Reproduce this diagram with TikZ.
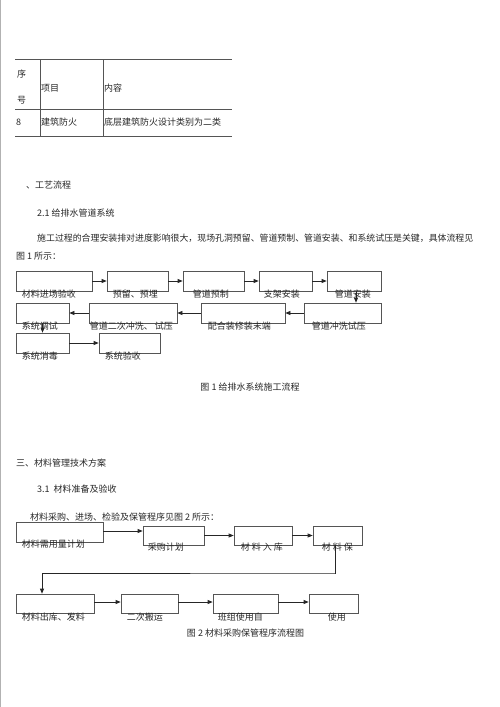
\documentclass[tikz,border=0pt]{standalone}
\usepackage{fontspec}
\newfontfamily\cjk{Noto Sans CJK SC}
\usetikzlibrary{arrows.meta}

\definecolor{InkGray}{HTML}{262626}
\definecolor{RuleGray}{HTML}{555555}

\tikzset{
  box/.style={draw=RuleGray, line width=0.7pt, inner sep=0pt},
  lbl/.style={font=\cjk\fontsize{9}{9}\selectfont, text=InkGray, inner sep=0pt, anchor=west},
  txt/.style={font=\cjk\fontsize{9}{9}\selectfont, text=InkGray, inner sep=0pt, anchor=west},
  arr/.style={draw=black!85, line width=0.7pt, -{Triangle[length=5pt,width=4pt]}},
}

\begin{document}
\begin{tikzpicture}[x=1pt,y=-1pt]
        \useasboundingbox (0,0) rectangle (500,707);
        \draw[black!30, line width=1pt] (0.5,0) -- (0.5,707);

        % table
        \draw[RuleGray, line width=0.8pt] (15,59) -- (232,59);
        \draw[RuleGray, line width=0.6pt] (15,109) -- (232,109);
        \draw[RuleGray, line width=0.6pt] (15,136) -- (232,136);
        \draw[RuleGray, line width=0.6pt] (40,59) -- (40,136);
        \draw[RuleGray, line width=0.6pt] (103,59) -- (103,136);
        \node[txt] (hxu) at (17,74) {序};
        \node[txt] (hhao) at (17,100) {号};
        \node[txt] (hitem) at (41,88) {项目};
        \node[txt] (hcont) at (104,88) {内容};
        \node[txt] (rnum) at (16,122) {8};
        \node[txt] (ritem) at (41,122) {建筑防火};
        \node[txt] (rcont) at (104,122) {底层建筑防火设计类别为二类};

        % text
        \node[txt] (sec2) at (26,185) {、工艺流程};
        \node[txt] (sub21) at (37,213) {2.1 给排水管道系统};
        \node[txt, font=\cjk\fontsize{8.9}{9}\selectfont] (par1) at (37,238) {施工过程的合理安装排对进度影响很大，现场孔洞预留、管道预制、管道安装、和系统试压是关键，具体流程见};
        \node[txt] (par1b) at (16,256) {图 1 所示：};

        % figure 1
        \node[box, minimum width=76pt, minimum height=20pt] (b1) at (54,281) {};
        \node[box, minimum width=61pt, minimum height=20pt] (b2) at (137.5,281) {};
        \node[box, minimum width=61pt, minimum height=20pt] (b3) at (213.5,281) {};
        \node[box, minimum width=53pt, minimum height=20pt] (b4) at (285.5,281) {};
        \node[box, minimum width=54pt, minimum height=20pt] (b5) at (354,281) {};
        \node[box, minimum width=53pt, minimum height=20pt] (c1) at (42.5,313) {};
        \node[box, minimum width=88pt, minimum height=20pt] (c2) at (133,313) {};
        \node[box, minimum width=84pt, minimum height=20pt] (c3) at (243,313) {};
        \node[box, minimum width=77pt, minimum height=20pt] (c4) at (342.5,313) {};
        \node[box, minimum width=53pt, minimum height=20pt] (d1) at (42.5,343) {};
        \node[box, minimum width=61pt, minimum height=20pt] (d2) at (129.5,343) {};

        \node[lbl] (b1t) at ([xshift=6pt,yshift=-3pt]b1.south west) {材料进场验收};
        \node[lbl] (b2t) at ([xshift=6pt,yshift=-3pt]b2.south west) {预留、预埋};
        \node[lbl] (b3t) at ([xshift=10pt,yshift=-3pt]b3.south west) {管道预制};
        \node[lbl] (b4t) at ([xshift=5pt,yshift=-3pt]b4.south west) {支架安装};
        \node[lbl] (b5t) at ([xshift=8pt,yshift=-3pt]b5.south west) {管道安装};
        \node[lbl] (c1t) at ([xshift=6pt,yshift=-3pt]c1.south west) {系统调试};
        \node[lbl] (c2t) at ([xshift=1pt,yshift=-3pt]c2.south west) {管道二次冲洗、 试压};
        \node[lbl] (c3t) at ([xshift=7pt,yshift=-3pt]c3.south west) {配合装修装末端};
        \node[lbl] (c4t) at ([xshift=8pt,yshift=-3pt]c4.south west) {管道冲洗试压};
        \node[lbl] (d1t) at ([xshift=6pt,yshift=-3pt]d1.south west) {系统消毒};
        \node[lbl] (d2t) at ([xshift=6pt,yshift=-3pt]d2.south west) {系统验收};

        \draw[arr] (b1.east) -- (b2.west);
        \draw[arr] (b2.east) -- (b3.west);
        \draw[arr] (b3.east) -- (b4.west);
        \draw[arr] (b4.east) -- (b5.west);
        \draw[arr] ([xshift=2pt]b5.south) -- ([xshift=2pt]b5.south |- c4.north);
        \draw[arr] (c4.west) -- (c3.east);
        \draw[arr] (c3.west) -- (c2.east);
        \draw[arr] (c2.west) -- (c1.east);
        \draw[arr] (c1.south) -- (d1.north);
        \draw[arr] (d1.east) -- (d2.west);

        \node[txt, anchor=center] (cap1) at (250,387) {图 1 给排水系统施工流程};

        % section 3
        \node[txt] (sec3) at (16,463) {三、材料管理技术方案};
        \node[txt] (sub31) at (37,489) {3.1 \ 材料准备及验收};
        \node[txt] (par3) at (30,517) {材料采购、进场、检验及保管程序见图 2 所示：};

        % figure 2
        \node[box, minimum width=87pt, minimum height=20pt] (m1) at (59.5,532) {};
        \node[box, minimum width=61pt, minimum height=19pt] (m2) at (173.5,535.5) {};
        \node[box, minimum width=58pt, minimum height=19pt] (m3) at (263,535.5) {};
        \node[box, minimum width=49pt, minimum height=19pt] (m4) at (337.5,535.5) {};
        \node[box, minimum width=78pt, minimum height=19pt] (n1) at (55,603.5) {};
        \node[box, minimum width=57pt, minimum height=19pt] (n2) at (149.5,603.5) {};
        \node[box, minimum width=65pt, minimum height=19pt] (n3) at (245.5,603.5) {};
        \node[box, minimum width=49pt, minimum height=19pt] (n4) at (333.5,603.5) {};

        \node[lbl] (m1t) at ([xshift=6pt,yshift=-2pt]m1.south west) {材料需用量计划};
        \node[lbl] (m2t) at ([xshift=5pt,yshift=-2pt]m2.south west) {采购计划};
        \node[lbl] (m3t) at ([xshift=7pt,yshift=-2pt]m3.south west) {材 料 入 库};
        \node[lbl] (m4t) at ([xshift=9pt,yshift=-2pt]m4.south west) {材 料 保};
        \node[lbl] (n1t) at ([xshift=6pt,yshift=-4pt]n1.south west) {材料出库、发料};
        \node[lbl] (n2t) at ([xshift=6pt,yshift=-4pt]n2.south west) {二次搬运};
        \node[lbl] (n3t) at ([xshift=5pt,yshift=-4pt]n3.south west) {班组使用自};
        \node[lbl] (n4t) at ([xshift=19pt,yshift=-4pt]n4.south west) {使用};

        \draw[arr] ([yshift=1pt]m1.east) -- ([yshift=1pt]m1.east -| m2.west);
        \draw[arr] (m2.east) -- (m3.west);
        \draw[arr] (m3.east) -- (m4.west);
        \coordinate (turn) at (335,573);
        \coordinate (drop) at ([xshift=-13pt]n1.north);
        \draw[arr] ([xshift=-2pt]m4.south) |- (turn) -| (drop);
        \draw[arr] ([yshift=1.5pt]n1.east) -- ([yshift=1.5pt]n1.east -| n2.west);
        \draw[arr] ([yshift=1.5pt]n2.east) -- ([yshift=1.5pt]n2.east -| n3.west);
        \draw[arr] ([yshift=1.5pt]n3.east) -- ([yshift=1.5pt]n3.east -| n4.west);

        \node[txt, anchor=center] (cap2) at (245.5,633) {图 2 材料采购保管程序流程图};
    \end{tikzpicture}
\end{document}
